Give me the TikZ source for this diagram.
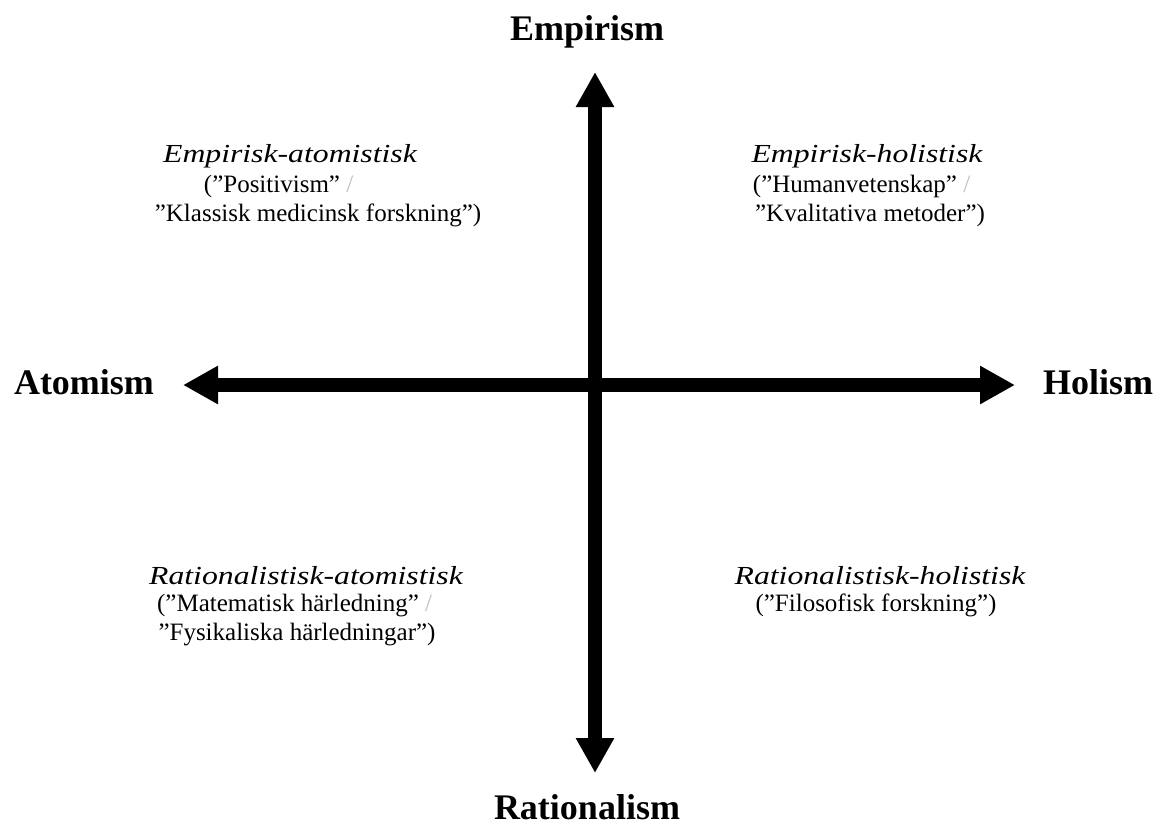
\documentclass[tikz,border=0pt]{standalone}
\usepackage{fontspec}
\setmainfont{Liberation Serif}
\newfontfamily\wideit{Liberation Serif}[FakeStretch=1.22]
\usetikzlibrary{arrows.meta}
\tikzset{
  axis/.style={line width=14pt, {Triangle[width=36pt,length=35pt]}-{Triangle[width=36pt,length=35pt]}},
  axislabel/.style={font=\fontsize{36}{40}\selectfont\bfseries, anchor=base, inner sep=0pt},
  qtitle/.style={font=\fontsize{26}{30}\selectfont\wideit\itshape, anchor=base, inner sep=0pt},
  qsub/.style={font=\fontsize{25}{29}\selectfont, anchor=base, inner sep=0pt},
}
\newcommand{\fslash}{\rlap{\textcolor{black!25}{\ /}}}
\begin{document}
\begin{tikzpicture}[x=1pt,y=-1pt]
\useasboundingbox (0,0) rectangle (1158,828);
% axes endpoints
\coordinate (top) at (595,72);
\coordinate (bottom) at (595,773);
\coordinate (left) at (183,385);
\coordinate (right) at (1015,385);
\draw[axis] (left) -- (right);
\draw[axis] (bottom) -- (top);
% axis labels
\node[axislabel] (emp) at (587,40) {Empirism};
\node[axislabel] (rat) at (587,819) {Rationalism};
\node[axislabel] (ato) at (84,394) {Atomism};
\node[axislabel] (hol) at (1098,394) {Holism};
% top left
\node[qtitle] (ea) at (290,162) {Empirisk-atomistisk};
\node[qsub] (ea2) at (272,192) {(”Positivism”\fslash};
\node[qsub] (ea3) at (318,221) {”Klassisk medicinsk forskning”)};
% top right
\node[qtitle] (eh) at (867,162) {Empirisk-holistisk};
\node[qsub] (eh2) at (855,192) {(”Humanvetenskap”\fslash};
\node[qsub] (eh3) at (870,221) {”Kvalitativa metoder”)};
% bottom left
\node[qtitle] (ra) at (306,584) {Rationalistisk-atomistisk};
\node[qsub] (ra2) at (288,611) {(”Matematisk härledning”\fslash};
\node[qsub] (ra3) at (297,640) {”Fysikaliska härledningar”)};
% bottom right
\node[qtitle] (rh) at (880,584) {Rationalistisk-holistisk};
\node[qsub] (rh2) at (876,611) {(”Filosofisk forskning”)};
\end{tikzpicture}
\end{document}
